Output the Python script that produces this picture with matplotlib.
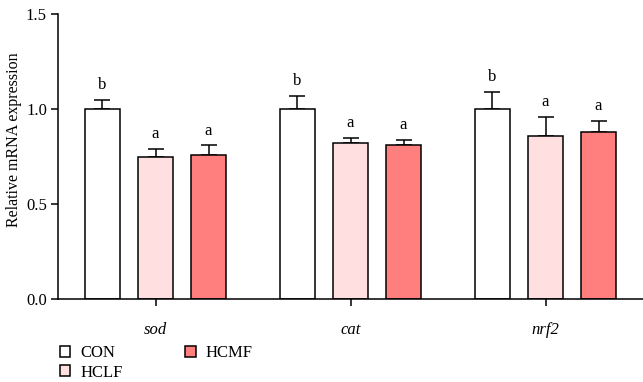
import matplotlib
matplotlib.use("Agg")
import matplotlib.pyplot as plt
import numpy as np

genes = ["sod", "cat", "nrf2"]
groups = ["CON", "HCLF", "HCMF"]
means = {
    "CON":  [1.00, 1.00, 1.00],
    "HCLF": [0.75, 0.82, 0.86],
    "HCMF": [0.76, 0.81, 0.88],
}
errs = {
    "CON":  [0.05, 0.07, 0.09],
    "HCLF": [0.04, 0.03, 0.10],
    "HCMF": [0.05, 0.03, 0.06],
}
letters = {
    "CON":  ["b", "b", "b"],
    "HCLF": ["a", "a", "a"],
    "HCMF": ["a", "a", "a"],
}
colors = {"CON": "#FFFFFF", "HCLF": "#FFDFDF", "HCMF": "#FF7F7F"}

plt.rcParams["font.family"] = ["Liberation Serif", "DejaVu Serif"]

fig = plt.figure(figsize=(6.43, 3.82), dpi=100)
ax = fig.add_axes([58/643, 1-299.3/382, 1-58/643, (299.3-14)/382])

x = np.arange(len(genes))
width = 0.175
pitch = 0.272
lw = 1.1
fs = 12
for i, g in enumerate(groups):
    xs = x + (i - 1) * pitch
    m = np.array(means[g]); e = np.array(errs[g])
    ax.bar(xs, m, width=width, color=colors[g], edgecolor="black", linewidth=lw, label=g, zorder=2)
    ax.errorbar(xs, m, yerr=[np.zeros_like(e), e], fmt="none", ecolor="black",
                elinewidth=lw, capsize=6, capthick=lw, zorder=1)
    for xi, mi, ei, t in zip(xs, m, e, letters[g]):
        ax.text(xi, mi + ei + 0.035, t, ha="center", va="bottom", fontsize=fs)

ax.set_xlim(-0.5, 2.5)
ax.set_ylim(0, 1.5)
ax.set_yticks([0, 0.5, 1.0, 1.5])
ax.set_yticklabels(["0.0", "0.5", "1.0", "1.5"])
ax.set_xticks(x)
ax.set_xticklabels(genes, fontstyle="italic")
ax.tick_params(axis="both", direction="out", length=5, width=lw, labelsize=fs, pad=3)
ax.tick_params(axis="x", pad=11)
for s in ["top", "right"]:
    ax.spines[s].set_visible(False)
for s in ["left", "bottom"]:
    ax.spines[s].set_linewidth(lw)
ax.set_ylabel("Relative mRNA expression", fontsize=11.5, labelpad=5)
ax.yaxis.set_label_coords(-0.061, 0.56)

ax.legend(ncol=2, loc="upper left", bbox_to_anchor=(60/643, 1 - 345/382),
          bbox_transform=fig.transFigure, frameon=False, fontsize=fs,
          handlelength=0.62, handleheight=0.62, handletextpad=0.6, columnspacing=3.75,
          labelspacing=0.22, borderaxespad=0, borderpad=0)

fig.savefig("out.png", dpi=100)
